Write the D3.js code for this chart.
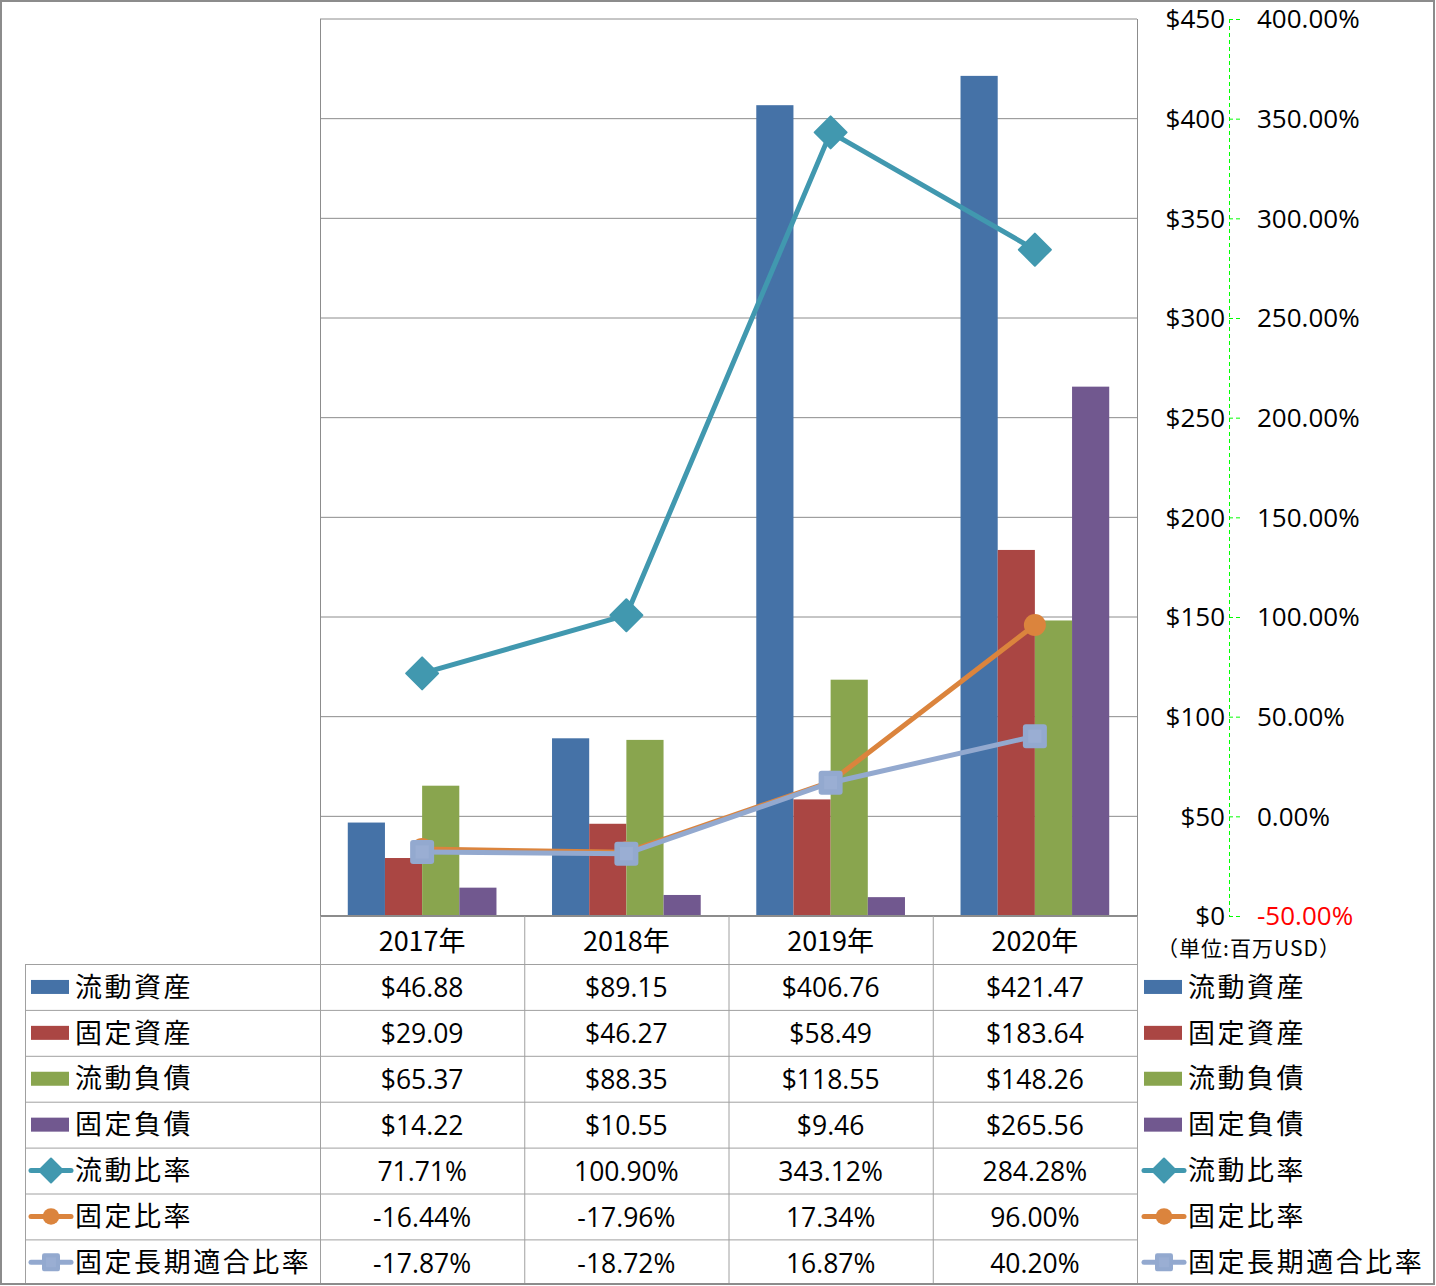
<!DOCTYPE html>
<html><head><meta charset="utf-8">
<script src="https://cdn.jsdelivr.net/npm/d3@7"></script>
<style>
html,body{margin:0;padding:0;background:#fff;}
svg text{font-family:"Noto Sans CJK JP","Noto Sans",sans-serif;}
.num{font-family:"Open Sans","Noto Sans",sans-serif;}
</style></head>
<body>
<svg id="c" width="1436" height="1286"></svg>
<script>
const categories = ["2017年","2018年","2019年","2020年"];
const barSeries = ["流動資産","固定資産","流動負債","固定負債"];
const lineSeries = ["流動比率","固定比率","固定長期適合比率"];
const currentAssets = [46.88, 89.15, 406.76, 421.47];
const fixedAssets = [29.09, 46.27, 58.49, 183.64];
const currentLiab = [65.37, 88.35, 118.55, 148.26];
const fixedLiab = [14.22, 10.55, 9.46, 265.56];
const currentRatio = [71.71, 100.90, 343.12, 284.28];
const fixedRatio = [-16.44, -17.96, 17.34, 96.00];
const fixedLongRatio = [-17.87, -18.72, 16.87, 40.20];
const usdTicks = [0,50,100,150,200,250,300,350,400,450];
const pctTicks = [-50,0,50,100,150,200,250,300,350,400];
const unitLabel = "（単位:百万USD）";

const barColors = ["#4572A7","#AA4643","#89A54E","#71588F"];
const lineColors = ["#4198AF","#DB843D","#93A9CF"];
const barData = [currentAssets, fixedAssets, currentLiab, fixedLiab];
const lineData = [currentRatio, fixedRatio, fixedLongRatio];

const svg = d3.select("#c");
const L = 320, R = 1137, T = 19, B = 916;
const grid = "#8C8C8C";

const x = d3.scaleBand().domain(categories).range([L, R]);
const bw = x.bandwidth();
const gw = bw * 0.728;
const x1 = d3.scaleBand().domain(barSeries).range([(bw-gw)/2, (bw+gw)/2]);
const y = d3.scaleLinear().domain([0,450]).range([B, T]);
const y2 = d3.scaleLinear().domain([-50,400]).range([B, T]);

// gridlines
svg.append("g").selectAll("line").data(usdTicks).join("line")
  .attr("x1", L).attr("x2", R).attr("y1", d=>y(d)).attr("y2", d=>y(d))
  .attr("stroke", grid).attr("stroke-width", 1);
svg.append("line").attr("x1",L+0.5).attr("x2",L+0.5).attr("y1",T).attr("y2",B).attr("stroke",grid);
svg.append("line").attr("x1",R+0.5).attr("x2",R+0.5).attr("y1",T).attr("y2",B).attr("stroke",grid);

// bars
barData.forEach((arr, si) => {
  svg.append("g").selectAll("rect").data(arr).join("rect")
    .attr("x", (d,i)=> x(categories[i]) + x1(barSeries[si]))
    .attr("width", x1.bandwidth())
    .attr("y", d=>y(d)).attr("height", d=>B - y(d))
    .attr("fill", barColors[si]);
});
svg.append("line").attr("x1",L).attr("x2",R).attr("y1",B).attr("y2",B).attr("stroke",grid).attr("stroke-width",2);

function marker(g, kind, color, cx, cy, scale) {
  const s = scale || 1;
  if (kind === 0) {
    const r = 16*s;
    g.append("path").attr("d", `M${cx},${cy-r}L${cx+r},${cy}L${cx},${cy+r}L${cx-r},${cy}Z`)
      .attr("fill", color).attr("stroke", color).attr("stroke-width",2).attr("stroke-linejoin","round");
  } else if (kind === 1) {
    g.append("circle").attr("cx",cx).attr("cy",cy).attr("r",11*s).attr("fill",color);
  } else {
    const h = 12*s;
    g.append("rect").attr("x",cx-h).attr("y",cy-h).attr("width",2*h).attr("height",2*h)
      .attr("rx",3*s).attr("fill",color);
    g.append("rect").attr("x",cx-h*0.55).attr("y",cy-h*0.55).attr("width",h*1.1).attr("height",h*1.1)
      .attr("fill","#9EB2D6").attr("opacity",0.6);
  }
}

[1,2,0].forEach(si => {
  const arr = lineData[si];
  const line = d3.line().x((d,i)=> x(categories[i]) + bw/2).y(d=>y2(d));
  svg.append("path").datum(arr).attr("d", line).attr("fill","none")
    .attr("stroke", lineColors[si]).attr("stroke-width", 5).attr("stroke-linejoin","round");
  const g = svg.append("g");
  arr.forEach((d,i)=> marker(g, si, lineColors[si], x(categories[i]) + bw/2, y2(d)));
});

// right axes
const axX = 1229;
svg.append("line").attr("x1",axX+0.5).attr("x2",axX+0.5).attr("y1",T).attr("y2",B)
  .attr("stroke","#00FF00").attr("stroke-width",1).attr("stroke-dasharray","4,3");
svg.append("g").selectAll("line").data(pctTicks).join("line")
  .attr("x1",axX).attr("x2",axX+11).attr("y1",d=>y2(d)+0.5).attr("y2",d=>y2(d)+0.5)
  .attr("stroke","#00FF00").attr("stroke-dasharray","4,3");
svg.append("g").selectAll("text").data(usdTicks).join("text").attr("class","num")
  .attr("x", 1225).attr("y", d=>y(d)).attr("dy","0.36em").attr("text-anchor","end")
  .attr("font-size",26).attr("fill","#000").text(d=>"$"+d);
svg.append("g").selectAll("text").data(pctTicks).join("text").attr("class","num")
  .attr("x", 1257).attr("y", d=>y2(d)).attr("dy","0.36em").attr("text-anchor","start")
  .attr("font-size",26).attr("fill", d=> d<0 ? "#FF0000" : "#000").text(d=>d.toFixed(2)+"%");
svg.append("text").attr("x",1157).attr("y",948).attr("dy","0.36em").attr("font-size",21)
  .attr("textLength",183).attr("lengthAdjust","spacing").text(unitLabel);

// data table
const rowTop = 964, rowH = 45.9, tblL = 25;
const tbl = svg.append("g");
const tc = "#A0A0A0";
[L, ...categories.map(c=>x(c)+bw)].forEach(xx=>{
  tbl.append("line").attr("x1",xx+0.5).attr("x2",xx+0.5).attr("y1",B).attr("y2",1285).attr("stroke",tc);
});
tbl.append("line").attr("x1",tblL+0.5).attr("x2",tblL+0.5).attr("y1",rowTop).attr("y2",1285).attr("stroke",tc);
for (let r=0;r<7;r++){
  tbl.append("line").attr("x1",tblL).attr("x2",R).attr("y1",rowTop+r*rowH+0.5).attr("y2",rowTop+r*rowH+0.5).attr("stroke",tc);
}
tbl.selectAll("text.h").data(categories).join("text").attr("class","h")
  .attr("x", d=>x(d)+bw/2).attr("y",(B+rowTop)/2+1).attr("dy","0.36em").attr("text-anchor","middle")
  .attr("font-size",27).text(d=>d);

const allNames = [...barSeries, ...lineSeries];
const allData = [...barData, ...lineData];
allNames.forEach((name, r) => {
  const cy = rowTop + r*rowH + rowH/2;
  const isBar = r < 4;
  const color = isBar ? barColors[r] : lineColors[r-4];
  [[31, 75],[1144, 1188]].forEach(([sx, tx]) => {
    if (isBar) {
      tbl.append("rect").attr("x",sx).attr("y",cy-7).attr("width",38).attr("height",14).attr("fill",color);
    } else {
      tbl.append("line").attr("x1",sx).attr("x2",sx+40).attr("y1",cy).attr("y2",cy)
        .attr("stroke",color).attr("stroke-width",5).attr("stroke-linecap","round");
      marker(tbl, r-4, color, sx+20, cy, 0.75);
    }
    tbl.append("text").attr("x",tx).attr("y",cy).attr("dy","0.36em").attr("font-size",27)
      .attr("textLength", name.length*29.6 - 3).attr("lengthAdjust","spacing").text(name);
  });
  allData[r].forEach((v,i)=>{
    const label = isBar ? "$"+v.toFixed(2) : v.toFixed(2)+"%";
    tbl.append("text").attr("class","num").attr("x", x(categories[i])+bw/2).attr("y",cy+1).attr("dy","0.36em")
      .attr("text-anchor","middle").attr("font-size",26.5).text(label);
  });
});

svg.append("rect").attr("x",1).attr("y",1).attr("width",1433).attr("height",1283)
  .attr("fill","none").attr("stroke","#8C8C8C").attr("stroke-width",2);
</script>
</body></html>
